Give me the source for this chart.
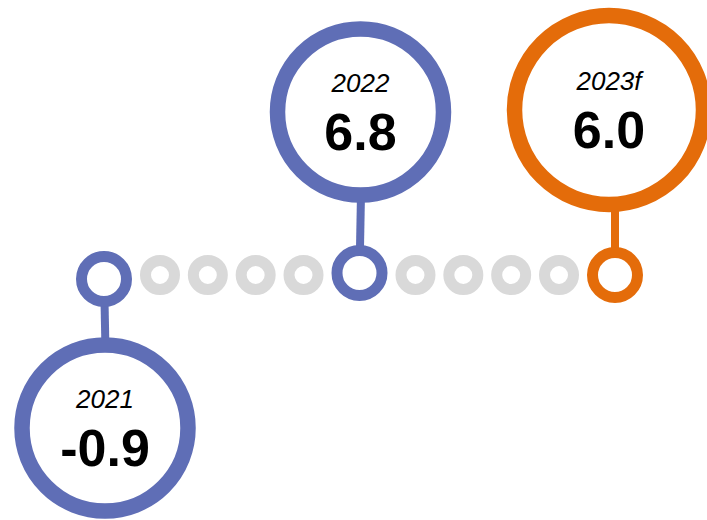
<!DOCTYPE html>
<html>
<head>
<meta charset="utf-8">
<script src="https://cdn.jsdelivr.net/npm/d3@7"></script>
<style>
  body { margin: 0; background: #fff; }
  svg { display: block; }
</style>
</head>
<body>
<svg id="chart"></svg>
<script>
// highlighted years on the timeline and their values
const years = ["2021", "2022", "2023f"];
const values = [-0.9, 6.8, 6.0];
const forecast = [false, false, true];
// number of plain grey dots between two highlighted years
const dotsBetween = 4;

const width = 707;
const height = 520;
const lineY = 275;

const blue = "#5f6eb6";
const orange = "#e46c0a";
const grey = "#d9d9d9";

// build the sequence of dots along the timeline
const dots = [];
years.forEach((y, i) => {
  dots.push({ year: y, value: values[i], forecast: forecast[i] });
  if (i < years.length - 1) {
    for (let k = 0; k < dotsBetween; k++) dots.push({ year: null });
  }
});

// each dot takes up its diameter plus a small gap, so accumulate
const size = (d) => (d.year ? 56 : 40);
const gap = 7;
let acc = 0;
dots.forEach((d, i) => {
  if (i > 0) acc += size(dots[i - 1]) / 2 + gap;
  acc += i > 0 ? size(d) / 2 : 0;
  d.pos = acc;
});

const x = d3
  .scaleLinear()
  .domain([0, acc])
  .range([104, 615]);

const svg = d3
  .select("#chart")
  .attr("width", width)
  .attr("height", height);

svg.selectAll("*").remove();

const highlighted = dots.filter((d) => d.year);

// callout: negative values hang below the line, positive ones sit above
const callout = (d) => {
  const r = d.forecast ? 94.5 : 83;
  const cy = d.value < 0 ? 428 : (d.forecast ? 110 : 112);
  const cx = x(d.pos) + (d.forecast ? -6 : 1);
  return { r, cx, cy };
};

// stems first so the rings sit on top
svg
  .append("g")
  .selectAll("line")
  .data(highlighted)
  .join("line")
  .attr("x1", (d) => x(d.pos))
  .attr("y1", lineY)
  .attr("x2", (d) => callout(d).cx + (d.forecast ? 6 : 2))
  .attr("y2", (d) => callout(d).cy)
  .attr("stroke", (d) => (d.forecast ? orange : blue))
  .attr("stroke-width", 8);

// the small timeline dots
svg
  .append("g")
  .selectAll("circle")
  .data(dots)
  .join("circle")
  .attr("cx", (d) => x(d.pos))
  .attr("cy", (d) => (d.year === "2021" ? 279 : d.year === "2022" ? 273 : lineY))
  .attr("r", (d) => (d.year ? 22.5 : 14.5))
  .attr("fill", "#fff")
  .attr("stroke", (d) => (!d.year ? grey : d.forecast ? orange : blue))
  .attr("stroke-width", (d) => (d.year ? 11 : 11));

// the big callout rings
const cells = svg
  .append("g")
  .selectAll("g")
  .data(highlighted)
  .join("g")
  .attr("transform", (d) => `translate(${callout(d).cx}, ${callout(d).cy})`);

cells
  .append("circle")
  .attr("r", (d) => callout(d).r)
  .attr("fill", "#fff")
  .attr("stroke", (d) => (d.forecast ? orange : blue))
  .attr("stroke-width", (d) => (d.forecast ? 15.5 : 15.5));

cells
  .append("text")
  .attr("text-anchor", "middle")
  .attr("y", -20)
  .attr("font-family", "Liberation Sans, Arial, sans-serif")
  .attr("font-style", "italic")
  .attr("font-size", 26)
  .attr("fill", "#000")
  .text((d) => d.year);

cells
  .append("text")
  .attr("text-anchor", "middle")
  .attr("y", 38)
  .attr("font-family", "Liberation Sans, Arial, sans-serif")
  .attr("font-weight", "bold")
  .attr("font-size", 52)
  .attr("fill", "#000")
  .text((d) => d3.format(".1f")(d.value).replace("−", "-"));
</script>
</body>
</html>
